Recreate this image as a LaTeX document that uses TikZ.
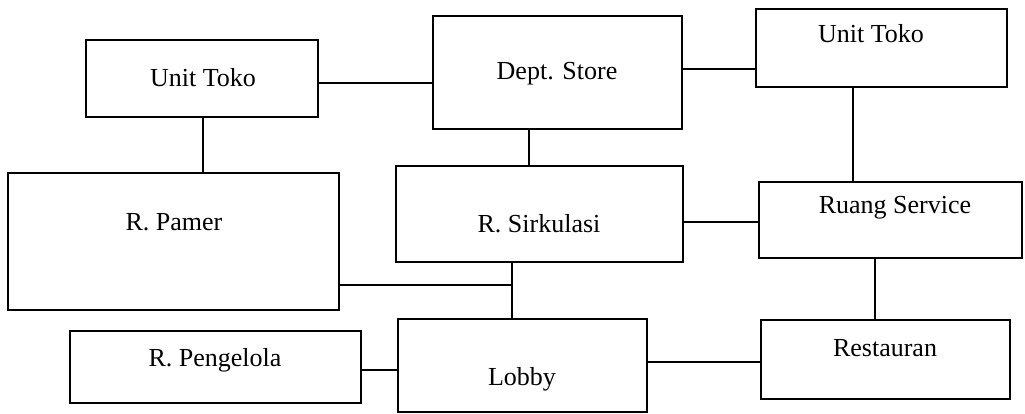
\documentclass[tikz,border=0pt]{standalone}
\usepackage{fontspec}
\setmainfont{Liberation Serif}
\begin{document}
\begin{tikzpicture}[x=1pt,y=-1pt,
  room/.style={draw=black,line width=1.3pt,inner sep=0pt,outer sep=0pt},
  lbl/.style={anchor=base,inner sep=0pt,font=\fontsize{26}{30}\selectfont},
  link/.style={line width=1.3pt}]
\useasboundingbox (0,0) rectangle (1025,414);
% rooms (corner coordinates in pixel space)
\node[room,minimum width=232pt,minimum height=77pt] (ut1) at (202,78.5) {};
\node[room,minimum width=249pt,minimum height=113pt] (ds) at (557.5,72.5) {};
\node[room,minimum width=251pt,minimum height=78pt] (ut2) at (881.5,48) {};
\node[room,minimum width=331pt,minimum height=137pt] (rp) at (173.5,241.5) {};
\node[room,minimum width=287pt,minimum height=96pt] (rs) at (539.5,214) {};
\node[room,minimum width=263pt,minimum height=76pt] (sv) at (890.5,220) {};
\node[room,minimum width=249pt,minimum height=79pt] (re) at (885.5,359.5) {};
\node[room,minimum width=249pt,minimum height=93pt] (lo) at (522.5,365.5) {};
\node[room,minimum width=291pt,minimum height=72pt] (pg) at (215.5,367) {};
% labels
\node[lbl] (tut1) at (203,87) {Unit Toko};
\node[lbl] (tds) at (557,80) {Dept. Store};
\node[lbl] (tut2) at (871,43) {Unit Toko};
\node[lbl] (trp) at (174,230) {R. Pamer};
\node[lbl] (trs) at (539,233) {R. Sirkulasi};
\node[lbl] (tsv) at (895,214) {Ruang Service};
\node[lbl] (tre) at (885,356) {Restauran};
\node[lbl] (tlo) at (522,385) {Lobby};
\node[lbl] (tpg) at (215,366) {R. Pengelola};
% connectors
\draw[link] (ut1.east |- 0,83) -- (ds.west |- 0,83);
\draw[link] (ds.east |- 0,69) -- (ut2.west |- 0,69);
\draw[link] (ut1.south -| 203,0) -- (rp.north -| 203,0);
\draw[link] (ds.south -| 529,0) -- (rs.north -| 529,0);
\draw[link] (ut2.south -| 853,0) -- (sv.north -| 853,0);
\draw[link] (rs.east |- 0,222) -- (sv.west |- 0,222);
\draw[link] (sv.south -| 875,0) -- (re.north -| 875,0);
\draw[link] (rs.south -| 512,0) coordinate (j1) -- (lo.north -| 512,0);
\draw[link] (rp.east |- 0,285) -- (j1 |- 0,285);
\draw[link] (pg.east |- 0,370) -- (lo.west |- 0,370);
\draw[link] (lo.east |- 0,362) -- (re.west |- 0,362);
\end{tikzpicture}
\end{document}
